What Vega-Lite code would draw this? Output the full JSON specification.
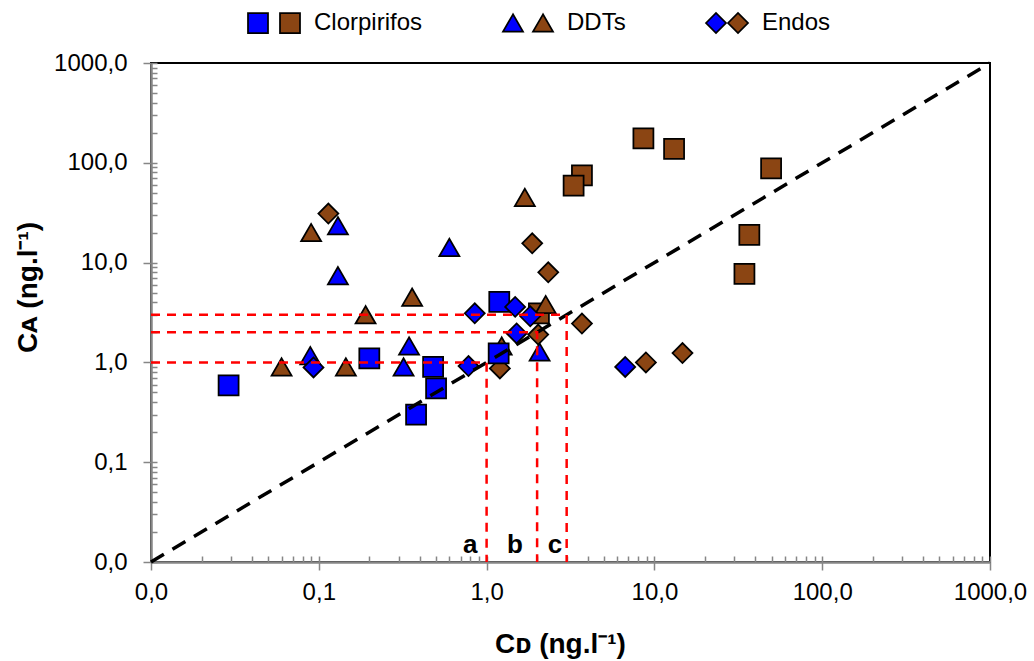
{
  "$schema": "https://vega.github.io/schema/vega-lite/v6.json",
  "autosize": {"type": "none"},
  "padding": {"left": 151, "top": 63, "right": 44, "bottom": 99},
  "width": 839,
  "height": 499,
  "background": "white",
  "config": {
    "font": "Liberation Sans",
    "view": {"stroke": "black", "strokeWidth": 2},
    "axis": {
      "grid": false,
      "domainColor": "#868686",
      "domainWidth": 2.5,
      "tickColor": "#868686",
      "tickWidth": 1.5,
      "labelFont": "Liberation Sans",
      "labelFontSize": 24,
      "labelColor": "black",
      "titleFont": "Liberation Sans",
      "titleFontSize": 28,
      "titleFontWeight": "bold",
      "titleColor": "black"
    },
    "legend": {
      "labelFont": "Liberation Sans",
      "labelFontSize": 24,
      "labelColor": "black",
      "labelLimit": 0,
      "symbolSize": 400,
      "symbolStrokeColor": "black",
      "symbolStrokeWidth": 1.75,
      "symbolOpacity": 1,
      "labelOffset": 12,
      "title": null
    }
  },
  "datasets": {
    "puntos": [
      {"serie": "Clorpirifos 2", "cd": 8.6, "ca": 176},
      {"serie": "Clorpirifos 2", "cd": 13.1, "ca": 138},
      {"serie": "Clorpirifos 2", "cd": 49.6, "ca": 88},
      {"serie": "Clorpirifos 2", "cd": 36.8, "ca": 19},
      {"serie": "Clorpirifos 2", "cd": 34.4, "ca": 7.7},
      {"serie": "Clorpirifos 2", "cd": 3.7, "ca": 75},
      {"serie": "Clorpirifos 2", "cd": 3.3, "ca": 59},
      {"serie": "Clorpirifos 2", "cd": 2.05, "ca": 3.1},
      {"serie": "DDTs 2", "cd": 0.09, "ca": 20},
      {"serie": "DDTs 2", "cd": 0.36, "ca": 4.5},
      {"serie": "DDTs 2", "cd": 0.19, "ca": 3.0},
      {"serie": "DDTs 2", "cd": 0.06, "ca": 0.9},
      {"serie": "DDTs 2", "cd": 0.145, "ca": 0.9},
      {"serie": "DDTs 2", "cd": 1.69, "ca": 45},
      {"serie": "DDTs 2", "cd": 2.25, "ca": 3.8},
      {"serie": "DDTs 2", "cd": 1.23, "ca": 1.46},
      {"serie": "Endos 2", "cd": 0.114, "ca": 31},
      {"serie": "Endos 2", "cd": 1.87, "ca": 15.6},
      {"serie": "Endos 2", "cd": 2.33, "ca": 8.0},
      {"serie": "Endos 2", "cd": 2.03, "ca": 1.9},
      {"serie": "Endos 2", "cd": 1.2, "ca": 0.87},
      {"serie": "Endos 2", "cd": 3.7, "ca": 2.45},
      {"serie": "Endos 2", "cd": 8.9, "ca": 1.0},
      {"serie": "Endos 2", "cd": 14.7, "ca": 1.24},
      {"serie": "Clorpirifos 1", "cd": 0.029, "ca": 0.59},
      {"serie": "Clorpirifos 1", "cd": 0.2, "ca": 1.1},
      {"serie": "Clorpirifos 1", "cd": 0.48, "ca": 0.9},
      {"serie": "Clorpirifos 1", "cd": 0.5, "ca": 0.55},
      {"serie": "Clorpirifos 1", "cd": 0.38, "ca": 0.3},
      {"serie": "Clorpirifos 1", "cd": 1.19, "ca": 4.05},
      {"serie": "Clorpirifos 1", "cd": 1.18, "ca": 1.23},
      {"serie": "DDTs 1", "cd": 0.13, "ca": 23.4},
      {"serie": "DDTs 1", "cd": 0.13, "ca": 7.4},
      {"serie": "DDTs 1", "cd": 0.345, "ca": 1.46},
      {"serie": "DDTs 1", "cd": 0.089, "ca": 1.17},
      {"serie": "DDTs 1", "cd": 0.32, "ca": 0.9},
      {"serie": "DDTs 1", "cd": 0.6, "ca": 14.2},
      {"serie": "DDTs 1", "cd": 2.07, "ca": 1.27},
      {"serie": "Endos 1", "cd": 0.093, "ca": 0.89},
      {"serie": "Endos 1", "cd": 0.85, "ca": 3.1},
      {"serie": "Endos 1", "cd": 1.48, "ca": 3.6},
      {"serie": "Endos 1", "cd": 1.82, "ca": 2.9},
      {"serie": "Endos 1", "cd": 1.51, "ca": 1.95},
      {"serie": "Endos 1", "cd": 0.78, "ca": 0.92},
      {"serie": "Endos 1", "cd": 6.7, "ca": 0.9}
    ],
    "diagonal": [
      {"x": 0.01, "y": 0.01},
      {"x": 1000, "y": 1000}
    ],
    "guias": [
      {"g": "a", "o": 1, "x": 0.01, "y": 1},
      {"g": "a", "o": 2, "x": 1, "y": 1},
      {"g": "a", "o": 3, "x": 1, "y": 0.01},
      {"g": "b", "o": 1, "x": 0.01, "y": 2},
      {"g": "b", "o": 2, "x": 2, "y": 2},
      {"g": "b", "o": 3, "x": 2, "y": 0.01},
      {"g": "c", "o": 1, "x": 0.01, "y": 3},
      {"g": "c", "o": 2, "x": 3, "y": 3},
      {"g": "c", "o": 3, "x": 3, "y": 0.01}
    ],
    "letras": [
      {"t": "a", "x": 0.8, "y": 0.0123},
      {"t": "b", "x": 1.476, "y": 0.0123},
      {"t": "c", "x": 2.56, "y": 0.0123}
    ]
  },
  "layer": [
    {
      "data": {"name": "puntos"},
      "transform": [{"filter": "datum.serie == 'Clorpirifos 2'"}],
      "mark": {"type": "point", "filled": true, "shape": "square", "size": 400, "stroke": "black", "strokeWidth": 1.75, "opacity": 1},
      "encoding": {
        "x": {
          "field": "cd", "type": "quantitative",
          "scale": {"type": "log", "domain": [0.01, 1000], "nice": false},
          "axis": {
            "orient": "bottom",
            "values": [0.01, 0.1, 1, 10, 100, 1000],
            "labelExpr": "replace(format(datum.value, '.1f'), '.', ',')",
            "tickSize": 8,
            "labelPadding": 10,
            "labelFlush": false,
            "labelOverlap": false,
            "title": "Cᴅ (ng.l⁻¹)",
            "titleX": 409,
            "titleY": 82,
            "titleAlign": "center",
            "titleBaseline": "middle"
          }
        },
        "y": {
          "field": "ca", "type": "quantitative",
          "scale": {"type": "log", "domain": [0.01, 1000], "nice": false},
          "axis": {
            "orient": "left",
            "values": [0.01, 0.1, 1, 10, 100, 1000],
            "labelExpr": "replace(format(datum.value, '.1f'), '.', ',')",
            "tickSize": 8,
            "labelPadding": 16,
            "labelFlush": false,
            "labelOverlap": false,
            "title": "Cᴀ (ng.l⁻¹)",
            "titleX": -123,
            "titleY": 224,
            "titleAngle": 270,
            "titleAlign": "center",
            "titleBaseline": "middle"
          }
        },
        "color": {
          "field": "serie", "type": "nominal",
          "scale": {"domain": ["Clorpirifos 2"], "range": ["#8B4513"]},
          "legend": {"orient": "none", "legendX": 127, "legendY": -52, "symbolType": "square", "labelExpr": "'Clorpirifos'"}
        }
      }
    },
    {
      "data": {"name": "puntos"},
      "transform": [{"filter": "datum.serie == 'DDTs 2'"}],
      "mark": {"type": "point", "filled": true, "shape": "triangle-up", "size": 400, "stroke": "black", "strokeWidth": 1.75, "opacity": 1},
      "encoding": {
        "x": {"field": "cd", "type": "quantitative", "scale": {"type": "log", "domain": [0.01, 1000], "nice": false}, "axis": null},
        "y": {"field": "ca", "type": "quantitative", "scale": {"type": "log", "domain": [0.01, 1000], "nice": false}, "axis": null},
        "color": {
          "field": "serie", "type": "nominal",
          "scale": {"domain": ["DDTs 2"], "range": ["#8B4513"]},
          "legend": {"orient": "none", "legendX": 380, "legendY": -52, "symbolType": "triangle-up", "labelExpr": "'DDTs'"}
        }
      }
    },
    {
      "data": {"name": "puntos"},
      "transform": [{"filter": "datum.serie == 'Endos 2'"}],
      "mark": {"type": "point", "filled": true, "shape": "diamond", "size": 400, "stroke": "black", "strokeWidth": 1.75, "opacity": 1},
      "encoding": {
        "x": {"field": "cd", "type": "quantitative", "scale": {"type": "log", "domain": [0.01, 1000], "nice": false}, "axis": null},
        "y": {"field": "ca", "type": "quantitative", "scale": {"type": "log", "domain": [0.01, 1000], "nice": false}, "axis": null},
        "color": {
          "field": "serie", "type": "nominal",
          "scale": {"domain": ["Endos 2"], "range": ["#8B4513"]},
          "legend": {"orient": "none", "legendX": 575, "legendY": -52, "symbolType": "diamond", "labelExpr": "'Endos'"}
        }
      }
    },
    {
      "data": {"name": "puntos"},
      "transform": [{"filter": "datum.serie == 'Clorpirifos 1'"}],
      "mark": {"type": "point", "filled": true, "shape": "square", "size": 400, "stroke": "black", "strokeWidth": 1.75, "opacity": 1},
      "encoding": {
        "x": {"field": "cd", "type": "quantitative", "scale": {"type": "log", "domain": [0.01, 1000], "nice": false}, "axis": null},
        "y": {"field": "ca", "type": "quantitative", "scale": {"type": "log", "domain": [0.01, 1000], "nice": false}, "axis": null},
        "color": {
          "field": "serie", "type": "nominal",
          "scale": {"domain": ["Clorpirifos 1"], "range": ["#0000FF"]},
          "legend": {"orient": "none", "legendX": 95, "legendY": -52, "symbolType": "square", "labelExpr": "''"}
        }
      }
    },
    {
      "data": {"name": "puntos"},
      "transform": [{"filter": "datum.serie == 'DDTs 1'"}],
      "mark": {"type": "point", "filled": true, "shape": "triangle-up", "size": 400, "stroke": "black", "strokeWidth": 1.75, "opacity": 1},
      "encoding": {
        "x": {"field": "cd", "type": "quantitative", "scale": {"type": "log", "domain": [0.01, 1000], "nice": false}, "axis": null},
        "y": {"field": "ca", "type": "quantitative", "scale": {"type": "log", "domain": [0.01, 1000], "nice": false}, "axis": null},
        "color": {
          "field": "serie", "type": "nominal",
          "scale": {"domain": ["DDTs 1"], "range": ["#0000FF"]},
          "legend": {"orient": "none", "legendX": 350, "legendY": -52, "symbolType": "triangle-up", "labelExpr": "''"}
        }
      }
    },
    {
      "data": {"name": "puntos"},
      "transform": [{"filter": "datum.serie == 'Endos 1'"}],
      "mark": {"type": "point", "filled": true, "shape": "diamond", "size": 400, "stroke": "black", "strokeWidth": 1.75, "opacity": 1},
      "encoding": {
        "x": {"field": "cd", "type": "quantitative", "scale": {"type": "log", "domain": [0.01, 1000], "nice": false}, "axis": null},
        "y": {"field": "ca", "type": "quantitative", "scale": {"type": "log", "domain": [0.01, 1000], "nice": false}, "axis": null},
        "color": {
          "field": "serie", "type": "nominal",
          "scale": {"domain": ["Endos 1"], "range": ["#0000FF"]},
          "legend": {"orient": "none", "legendX": 553, "legendY": -52, "symbolType": "diamond", "labelExpr": "''"}
        }
      }
    },
    {
      "data": {"name": "diagonal"},
      "mark": {"type": "line", "color": "black", "strokeWidth": 3.5, "strokeDash": [15, 10]},
      "encoding": {
        "x": {
          "field": "x", "type": "quantitative",
          "scale": {"type": "log", "domain": [0.01, 1000], "nice": false},
          "axis": {
            "orient": "bottom",
            "values": [0.01, 0.02, 0.03, 0.04, 0.05, 0.06, 0.07, 0.08, 0.09, 0.1, 0.2, 0.3, 0.4, 0.5, 0.6, 0.7, 0.8, 0.9, 1, 2, 3, 4, 5, 6, 7, 8, 9, 10, 20, 30, 40, 50, 60, 70, 80, 90, 100, 200, 300, 400, 500, 600, 700, 800, 900, 1000],
            "tickSize": -6,
            "labels": false,
            "domain": false,
            "title": null
          }
        },
        "y": {
          "field": "y", "type": "quantitative",
          "scale": {"type": "log", "domain": [0.01, 1000], "nice": false},
          "axis": {
            "orient": "left",
            "values": [0.01, 0.02, 0.03, 0.04, 0.05, 0.06, 0.07, 0.08, 0.09, 0.1, 0.2, 0.3, 0.4, 0.5, 0.6, 0.7, 0.8, 0.9, 1, 2, 3, 4, 5, 6, 7, 8, 9, 10, 20, 30, 40, 50, 60, 70, 80, 90, 100, 200, 300, 400, 500, 600, 700, 800, 900, 1000],
            "tickSize": -6,
            "labels": false,
            "domain": false,
            "title": null
          }
        }
      }
    },
    {
      "data": {"name": "guias"},
      "mark": {"type": "line", "color": "#FF0000", "strokeWidth": 2.5, "strokeDash": [9, 7]},
      "encoding": {
        "x": {"field": "x", "type": "quantitative", "scale": {"type": "log", "domain": [0.01, 1000], "nice": false}, "axis": null},
        "y": {"field": "y", "type": "quantitative", "scale": {"type": "log", "domain": [0.01, 1000], "nice": false}, "axis": null},
        "detail": {"field": "g"},
        "order": {"field": "o", "type": "quantitative"}
      }
    },
    {
      "data": {"name": "letras"},
      "mark": {"type": "text", "fontSize": 26, "fontWeight": "bold", "font": "Liberation Sans", "color": "black", "align": "center", "baseline": "alphabetic"},
      "encoding": {
        "x": {"field": "x", "type": "quantitative", "scale": {"type": "log", "domain": [0.01, 1000], "nice": false}, "axis": null},
        "y": {"field": "y", "type": "quantitative", "scale": {"type": "log", "domain": [0.01, 1000], "nice": false}, "axis": null},
        "text": {"field": "t"}
      }
    }
  ],
  "resolve": {
    "scale": {"color": "independent"},
    "legend": {"color": "independent"},
    "axis": {"x": "independent", "y": "independent"}
  }
}
